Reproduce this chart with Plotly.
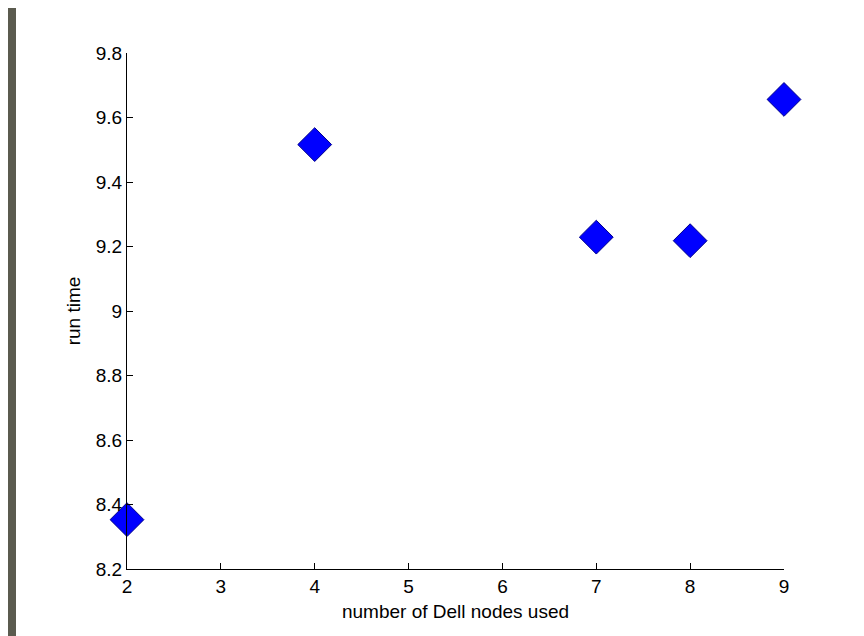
import plotly.graph_objects as go

nodes = [2, 4, 7, 8, 9]
run_time = [8.353, 9.516, 9.229, 9.218, 9.656]

x_ticks = [2, 3, 4, 5, 6, 7, 8, 9]
y_ticks = [8.2, 8.4, 8.6, 8.8, 9.0, 9.2, 9.4, 9.6, 9.8]
y_tick_labels = ["8.2", "8.4", "8.6", "8.8", "9", "9.2", "9.4", "9.6", "9.8"]

font_family = "Liberation Sans, Arial, sans-serif"
fsize = 19

fig = go.Figure()
fig.add_trace(go.Scatter(
    x=nodes, y=run_time, mode="markers",
    marker=dict(symbol="diamond", size=26, color="#0000ff",
                line=dict(color="#00008b", width=1)),
    cliponaxis=False, showlegend=False,
))

fig.update_layout(
    width=856, height=628,
    margin=dict(l=119, r=80, t=45, b=67),
    paper_bgcolor="#5b5b4f",
    plot_bgcolor="white",
    font=dict(family=font_family, size=fsize, color="black"),
    shapes=[dict(type="rect", xref="paper", yref="paper",
                 x0=(16 - 127) / 657, x1=(864 - 127) / 657 + 0.02,
                 y0=(569 - 660) / 516, y1=(569 - 0) / 516 + 0.05,
                 fillcolor="white", line=dict(width=0), layer="below")],
)
fig.update_xaxes(
    range=[2, 9], tickvals=x_ticks, ticktext=[str(v) for v in x_ticks],
    ticks="inside", ticklen=6, tickcolor="black", showline=True,
    linecolor="black", linewidth=1, showgrid=False, zeroline=False,
    mirror=False,
    title=dict(text="number of Dell nodes used", standoff=8,
               font=dict(size=fsize)),
    tickfont=dict(size=fsize),
)
fig.update_yaxes(
    range=[8.2, 9.8], tickvals=y_ticks, ticktext=y_tick_labels,
    ticks="inside", ticklen=6, tickcolor="black", showline=True,
    linecolor="black", linewidth=1, showgrid=False, zeroline=False,
    title=dict(text="run time", standoff=10, font=dict(size=fsize)),
    tickfont=dict(size=fsize),
)

fig.write_html("out.html")
